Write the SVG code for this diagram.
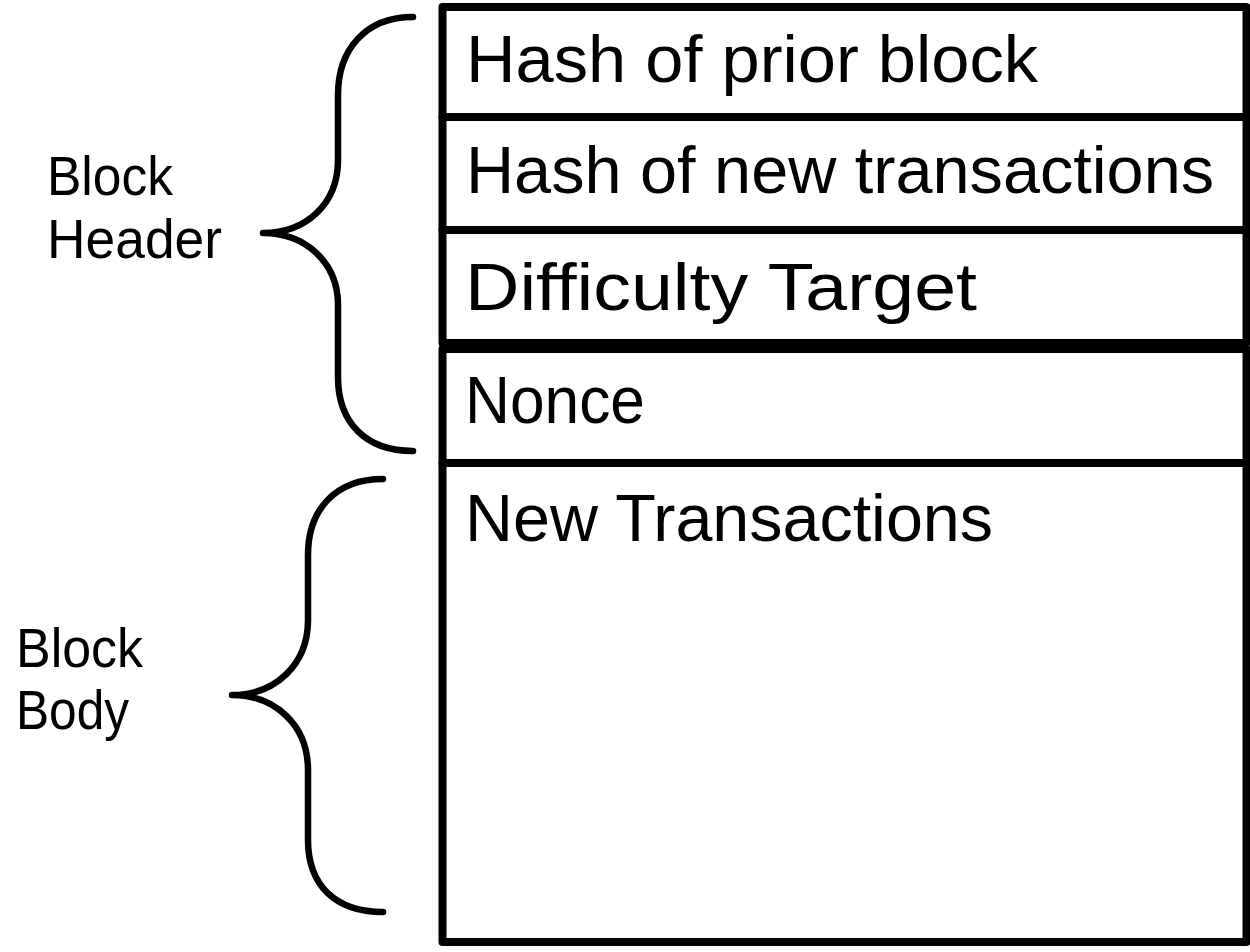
<svg xmlns="http://www.w3.org/2000/svg" width="1250" height="952" viewBox="0 0 1250 952">
<style>
.box{fill:#fff;stroke:#000;stroke-width:8;stroke-linejoin:round}
.brace{fill:none;stroke:#000;stroke-width:6.5;stroke-linecap:round;stroke-linejoin:round}
.t{font-family:"Comic Sans MS","Liberation Sans",sans-serif;font-size:66px;fill:#000}
.l{font-family:"Comic Sans MS","Liberation Sans",sans-serif;font-size:55px;fill:#000}
</style>
<rect width="1250" height="952" fill="#fff"/>
<g id="body">
<rect class="box" x="442.5" y="463" width="804" height="479"/>
<text class="t" x="465" y="541" textLength="528" lengthAdjust="spacingAndGlyphs">New Transactions</text>
</g>
<g id="nonce">
<rect class="box" x="442.5" y="349" width="804" height="114"/>
<text class="t" x="465" y="423" textLength="180" lengthAdjust="spacingAndGlyphs">Nonce</text>
</g>
<g id="difficulty">
<rect class="box" x="442.5" y="230" width="804" height="113"/>
<text class="t" x="465" y="310" textLength="512" lengthAdjust="spacingAndGlyphs">Difficulty Target</text>
</g>
<g id="hash-tx">
<rect class="box" x="442.5" y="117" width="804" height="113"/>
<text class="t" x="466" y="193" textLength="748" lengthAdjust="spacingAndGlyphs">Hash of new transactions</text>
</g>
<g id="hash-prior">
<rect class="box" x="442.5" y="7" width="804" height="110"/>
<text class="t" x="466" y="82" textLength="572" lengthAdjust="spacingAndGlyphs">Hash of prior block</text>
</g>
<g id="header-label">
<path class="brace" d="M413,17 C365,17 338,50 338,95 L338,160 C338,205 305,233 263,233 C305,233 338,262 338,305 L338,377 C338,422 365,451 413,451"/>
<text class="l" x="47" y="195" textLength="126" lengthAdjust="spacingAndGlyphs">Block</text>
<text class="l" x="47" y="258" textLength="175" lengthAdjust="spacingAndGlyphs">Header</text>
</g>
<g id="body-label">
<path class="brace" d="M383,479 C335,479 308,510 308,555 L308,620 C308,665 275,695 232,695 C275,695 308,725 308,770 L308,840 C308,885 335,912 383,912"/>
<text class="l" x="16" y="667" textLength="127" lengthAdjust="spacingAndGlyphs">Block</text>
<text class="l" x="16" y="729" textLength="113" lengthAdjust="spacingAndGlyphs">Body</text>
</g>
</svg>
